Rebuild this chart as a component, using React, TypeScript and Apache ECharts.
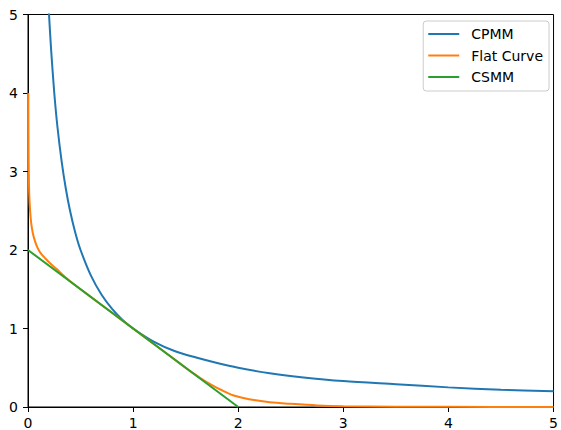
import React, { useEffect, useRef } from "react";
import * as echarts from "echarts";

const xTicks = [0, 1, 2, 3, 4, 5];
const yTicks = [0, 1, 2, 3, 4, 5];
const seriesNames = ["CPMM", "Flat Curve", "CSMM"];
const colors = ["#1f77b4", "#ff7f0e", "#2ca02c"];

const cpmm: number[][] = [
  [0.19, 5.26], [0.2, 5.0], [0.22, 4.55], [0.25, 4.0], [0.28, 3.57], [0.32, 3.13], [0.36, 2.78],
  [0.4, 2.5], [0.45, 2.22], [0.5, 2.0], [0.6, 1.67], [0.7, 1.43], [0.8, 1.25],
  [0.9, 1.11], [1.0, 1.0], [1.2, 0.83], [1.4, 0.71], [1.6, 0.63], [1.8, 0.56],
  [2.0, 0.5], [2.3, 0.43], [2.6, 0.38], [3.0, 0.33], [3.5, 0.29], [4.0, 0.25],
  [4.5, 0.22], [5.0, 0.2],
];

const flatCurve: number[][] = [
  [0.003, 4.0], [0.005, 3.3], [0.008, 2.95], [0.012, 2.7], [0.02, 2.5], [0.03, 2.35],
  [0.045, 2.22], [0.065, 2.12], [0.09, 2.03], [0.12, 1.96], [0.16, 1.9], [0.21, 1.83],
  [0.27, 1.76], [0.35, 1.66], [0.45, 1.55], [0.6, 1.4], [0.8, 1.2], [1.0, 1.0],
  [1.2, 0.8], [1.4, 0.6], [1.55, 0.45], [1.65, 0.36], [1.75, 0.28], [1.85, 0.21],
  [1.95, 0.15], [2.05, 0.115], [2.15, 0.088], [2.3, 0.06], [2.5, 0.04], [2.75, 0.02],
  [3.0, 0.01], [3.5, 0.004], [4.0, 0.002], [5.0, 0.001],
];

const csmm: number[][] = [
  [0, 2], [2, 0],
];

export default function App() {
  const ref = useRef<HTMLDivElement>(null);
  useEffect(() => {
    document.body.style.margin = "0";
    const chart = echarts.init(ref.current!, null, { renderer: "svg" });
    const font = "DejaVu Sans";
    const mkSeries = (name: string, data: number[][], color: string, smooth: number | boolean) => ({
      name,
      type: "line",
      data,
      symbol: "none",
      smooth,
      clip: true,
      lineStyle: { color, width: 2 },
      itemStyle: { color },
    });
    chart.setOption({
      animation: false,
      backgroundColor: "#fff",
      grid: {
        left: 28, right: 4, top: 14.5, bottom: 22,
        show: true, borderColor: "#000", borderWidth: 1, backgroundColor: "transparent",
      },
      legend: {
        data: seriesNames.map((n) => ({ name: n, icon: "rect" })),
        orient: "vertical",
        right: 12,
        top: 21,
        padding: [5, 6, 6, 5],
        itemGap: 5.5,
        itemWidth: 31,
        itemHeight: 2,
        borderColor: "#cccccc",
        borderWidth: 1,
        borderRadius: 3,
        backgroundColor: "rgba(255,255,255,0.8)",
        textStyle: { fontFamily: font, fontSize: 14, color: "#000", padding: [0, 0, 0, 7], lineHeight: 16 },
      },
      xAxis: {
        type: "value",
        min: xTicks[0],
        max: xTicks[xTicks.length - 1],
        interval: 1,
        splitLine: { show: false },
        axisLine: { lineStyle: { color: "#000", width: 1 } },
        axisTick: { show: true, inside: false, length: 5, lineStyle: { color: "#000" } },
        axisLabel: { fontFamily: font, fontSize: 14, color: "#000", margin: 9 },
      },
      yAxis: {
        type: "value",
        min: yTicks[0],
        max: yTicks[yTicks.length - 1],
        interval: 1,
        splitLine: { show: false },
        axisLine: { show: true, lineStyle: { color: "#000", width: 1 } },
        axisTick: { show: true, inside: false, length: 5, lineStyle: { color: "#000" } },
        axisLabel: { fontFamily: font, fontSize: 14, color: "#000", margin: 10 },
      },
      series: [
        mkSeries(seriesNames[0], cpmm, colors[0], 0.3),
        mkSeries(seriesNames[1], flatCurve, colors[1], 0.3),
        mkSeries(seriesNames[2], csmm, colors[2], false),
      ],
    });
    return () => chart.dispose();
  }, []);
  return <div ref={ref} style={{ width: 561, height: 430 }} />;
}
